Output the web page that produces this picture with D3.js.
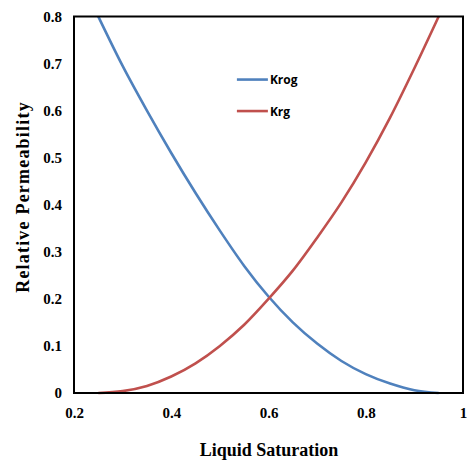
<!DOCTYPE html>
<html>
<head>
<meta charset="utf-8">
<script src="https://cdn.jsdelivr.net/npm/d3@7"></script>
<style>
  body { margin: 0; background: #fff; }
  .tick-label { font-family: "Liberation Serif", "Times New Roman", serif; font-weight: bold; font-size: 15px; }
  .axis-title { font-family: "Liberation Serif", "Times New Roman", serif; font-weight: bold; font-size: 18px; }
  .legend-text { font-family: "Open Sans", "Liberation Sans", sans-serif; font-weight: bold; font-size: 12px; }
</style>
</head>
<body>
<div id="chart"></div>
<script>
// liquid saturation values (x)
const saturation = [0.25, 0.30, 0.35, 0.40, 0.45, 0.50, 0.55, 0.60, 0.65, 0.70, 0.75, 0.80, 0.85, 0.90, 0.95];
// series
const krog = [0.80, 0.695, 0.60, 0.51, 0.425, 0.345, 0.27, 0.205, 0.15, 0.105, 0.068, 0.04, 0.02, 0.006, 0.0];
const krg  = [0.0, 0.004, 0.015, 0.035, 0.063, 0.10, 0.145, 0.20, 0.26, 0.33, 0.405, 0.49, 0.585, 0.69, 0.80];
const xTicks = [0.2, 0.4, 0.6, 0.8, 1];
const yTicks = [0, 0.1, 0.2, 0.3, 0.4, 0.5, 0.6, 0.7, 0.8];
const seriesNames = ["Krog", "Krg"];
const seriesColors = ["#4F81BD", "#C0504D"];

const width = 467, height = 464;
const margin = {top: 16.5, right: 4, bottom: 71, left: 74};
const innerW = width - margin.left - margin.right,
      innerH = height - margin.top - margin.bottom;

const svg = d3.select("#chart")
  .append("svg")
  .attr("width", width)
  .attr("height", height);

const g = svg.append("g")
  .attr("transform", `translate(${margin.left},${margin.top})`);

const x = d3.scaleLinear().domain([0.2, 1]).range([0, innerW]);
const y = d3.scaleLinear().domain([0, 0.8]).range([innerH, 0]);

// tick labels (no tick marks in the original)
g.append("g")
  .attr("transform", `translate(0,${innerH})`)
  .call(d3.axisBottom(x).tickValues(xTicks).tickSize(0).tickPadding(14).tickFormat(d3.format("")))
  .call(a => a.select(".domain").remove())
  .selectAll("text").attr("class", "tick-label").attr("fill", "#000");

g.append("g")
  .call(d3.axisLeft(y).tickValues(yTicks).tickSize(0).tickPadding(12).tickFormat(d3.format("")))
  .call(a => a.select(".domain").remove())
  .selectAll("text").attr("class", "tick-label").attr("fill", "#000");

// curves
const series = [krog, krg];
const line = d3.line()
  .x((d, i) => x(saturation[i]))
  .y(d => y(d))
  .curve(d3.curveMonotoneX);

series.forEach((s, k) => {
  g.append("path")
    .datum(s)
    .attr("fill", "none")
    .attr("stroke", seriesColors[k])
    .attr("stroke-width", 2.6)
    .attr("d", line);
});

// plot frame
g.append("rect")
  .attr("width", innerW)
  .attr("height", innerH)
  .attr("fill", "none")
  .attr("stroke", "#000")
  .attr("stroke-width", 2);

// legend
const legend = g.append("g").attr("transform", `translate(${x(0.535)},${y(0.666)})`);
seriesNames.forEach((n, k) => {
  const row = legend.append("g").attr("transform", `translate(0,${k * 31.5})`);
  row.append("line")
    .attr("x1", 0).attr("x2", 31)
    .attr("stroke", seriesColors[k])
    .attr("stroke-width", 2.6);
  row.append("text")
    .attr("class", "legend-text")
    .attr("x", 33)
    .attr("y", 4.5)
    .text(n);
});

// axis titles
svg.append("text")
  .attr("class", "axis-title")
  .attr("x", margin.left + innerW / 2 + 0.5)
  .attr("y", 456)
  .attr("text-anchor", "middle")
  .text("Liquid Saturation");

svg.append("text")
  .attr("class", "axis-title")
  .attr("transform", "translate(29,197) rotate(-90)")
  .attr("text-anchor", "middle")
  .style("letter-spacing", "1.2px")
  .text("Relative Permeability");
</script>
</body>
</html>
